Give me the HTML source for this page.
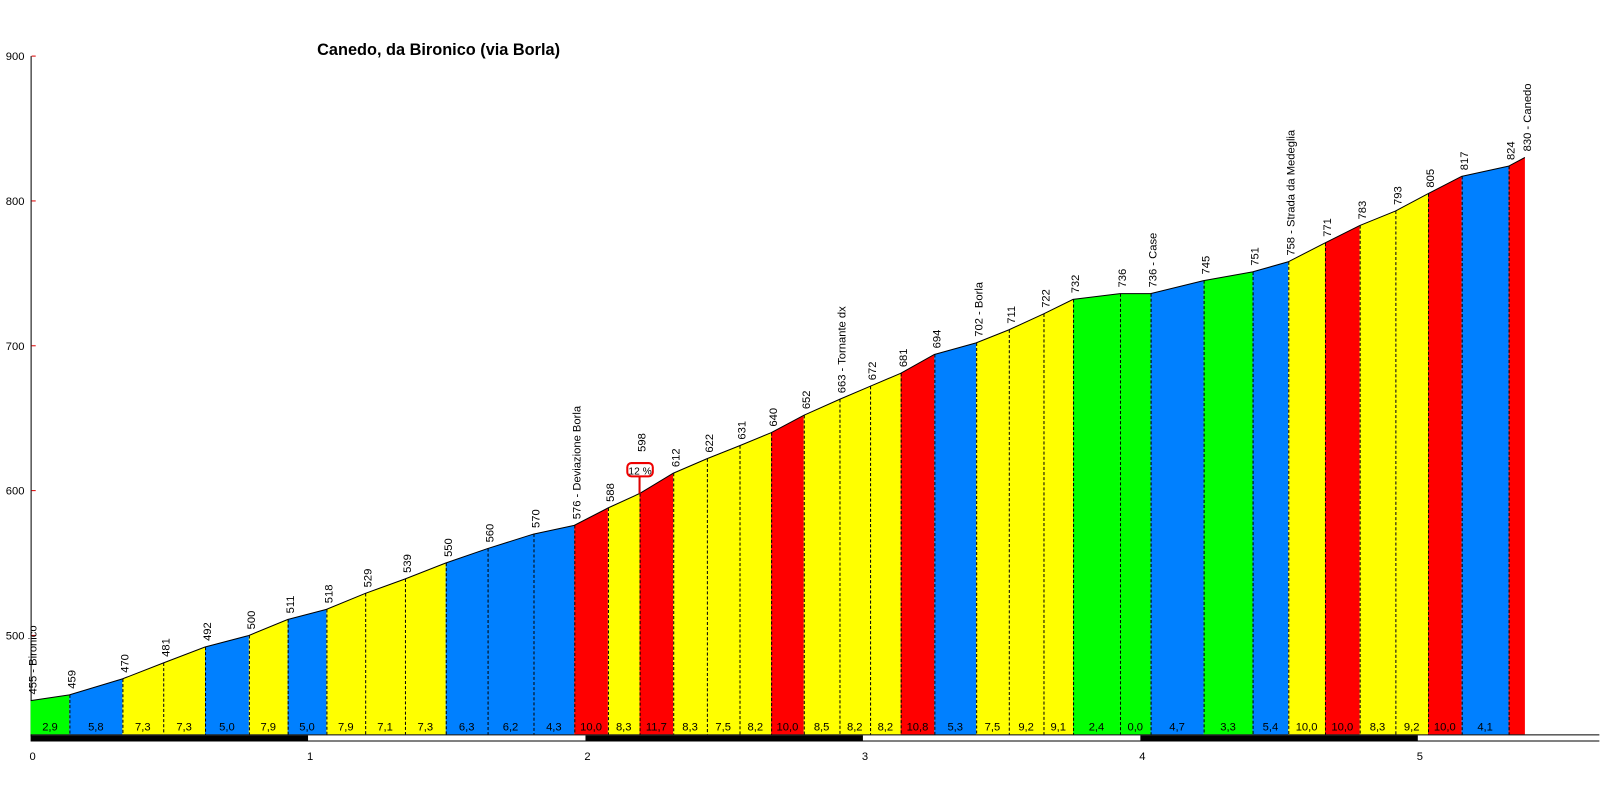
<!DOCTYPE html>
<html><head><meta charset="utf-8"><style>
html,body{margin:0;padding:0;background:#fff;}
svg{display:block;font-family:"Liberation Sans",Arial,sans-serif;}
</style></head><body>
<svg width="1600" height="805" viewBox="0 0 1600 805" xmlns="http://www.w3.org/2000/svg">
<rect width="1600" height="805" fill="#fff"/>
<g transform="scale(1.02)">
<text x="430" y="54" font-size="16" font-weight="bold" text-anchor="middle">Canedo, da Bironico (via Borla)</text>
<line x1="30.5" y1="55" x2="30.5" y2="722" stroke="#000"/>
<g font-size="11" text-anchor="end" fill="#000">
<text x="24" y="59">900</text><text x="24" y="201">800</text><text x="24" y="343">700</text><text x="24" y="485">600</text><text x="24" y="627">500</text>
</g>
<g stroke="#d00"><line x1="31" y1="55" x2="35" y2="55"/><line x1="31" y1="197" x2="35" y2="197"/><line x1="31" y1="339" x2="35" y2="339"/><line x1="31" y1="481" x2="35" y2="481"/><line x1="31" y1="623" x2="35" y2="623"/></g>
<g id="prof"></g>
<line x1="30" y1="720.5" x2="1568" y2="720.5" stroke="#000"/>
<line x1="30" y1="726.5" x2="1568" y2="726.5" stroke="#000"/>
<g fill="#000"><rect x="30" y="721" width="272" height="5"/><rect x="574" y="721" width="272" height="5"/><rect x="1118" y="721" width="272" height="5"/></g>
<g font-size="11" text-anchor="middle"><text x="32" y="745">0</text><text x="304" y="745">1</text><text x="576" y="745">2</text><text x="848" y="745">3</text><text x="1120" y="745">4</text><text x="1392" y="745">5</text></g>
</g>
</svg>
<script>
var xs=[30,68,120,160,201,244,282,320,358,397,437,478,523,563,596,627,660,693,725,756,788,823,853,883,916,957,989,1023,1052,1098,1128,1180,1228,1263,1299,1333,1368,1400,1433,1479,1495];
var el=[455,459,470,481,492,500,511,518,529,539,550,560,570,576,588,598,612,622,631,640,652,663,672,681,694,702,711,722,732,736,736,745,751,758,771,783,793,805,817,824,830];
var gr=["2,9","5,8","7,3","7,3","5,0","7,9","5,0","7,9","7,1","7,3","6,3","6,2","4,3","10,0","8,3","11,7","8,3","7,5","8,2","10,0","8,5","8,2","8,2","10,8","5,3","7,5","9,2","9,1","2,4","0,0","4,7","3,3","5,4","10,0","10,0","8,3","9,2","10,0","4,1",""];
var cl="GBYYBYBYYYBBBRYRYYYRYYYRBYYYGGBGBYRYYRBR";
var cm={G:"#00ff00",B:"#0080ff",Y:"#ffff00",R:"#ff0000"};
var names={0:" - Bironico",13:" - Deviazione Borla",21:" - Tornante dx",25:" - Borla",30:" - Case",33:" - Strada da Medeglia",40:" - Canedo"};
function Y(e){return 55+(900-e)*1.42;}
var h="",B=720;
for(var i=0;i<40;i++){
 h+='<polygon points="'+xs[i]+','+B+' '+xs[i]+','+Y(el[i])+' '+xs[i+1]+','+Y(el[i+1])+' '+xs[i+1]+','+B+'" fill="'+cm[cl[i]]+'"/>';
 if(gr[i])h+='<text x="'+((xs[i]+xs[i+1])/2)+'" y="716" font-size="11" text-anchor="middle">'+gr[i]+'</text>';
}
for(var i=1;i<40;i++)h+='<line x1="'+(xs[i]+0.5)+'" y1="'+Y(el[i])+'" x2="'+(xs[i]+0.5)+'" y2="'+B+'" stroke="#000" stroke-dasharray="3,2"/>';
var p="";for(var i=0;i<41;i++)p+=xs[i]+','+Y(el[i])+' ';
h+='<polyline points="'+p+'" fill="none" stroke="#000" stroke-width="1"/>';
for(var i=0;i<41;i++){var t=el[i]+(names[i]||"");var x=xs[i]+6,y=Y(el[i])-6;
 if(i==15)y=443;
 h+='<text transform="translate('+x+','+y+') rotate(-90)" font-size="11">'+t+'</text>';}
h+='<line x1="627" y1="467" x2="627" y2="484" stroke="#d00" stroke-width="2"/><rect x="615" y="454" width="25" height="13" rx="4" fill="#fff" stroke="#e00" stroke-width="2"/><text x="627.5" y="465" font-size="10" text-anchor="middle">12 %</text>';
document.getElementById("prof").innerHTML=h;
</script>
</body></html>
